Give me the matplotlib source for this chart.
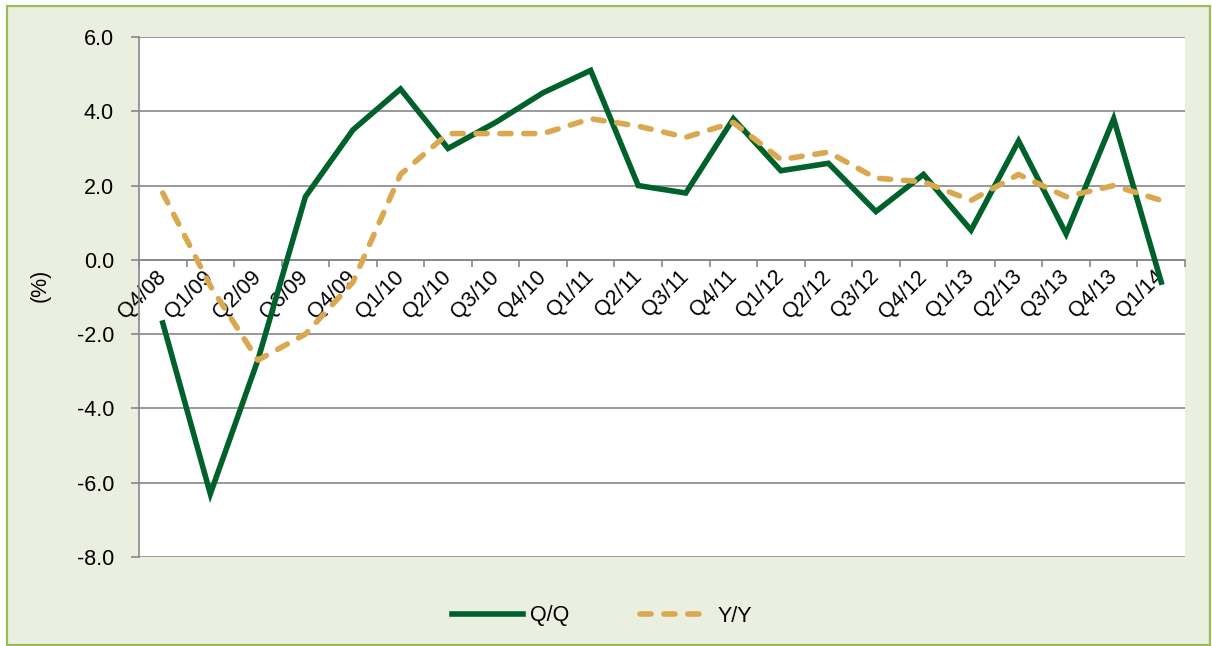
import matplotlib
matplotlib.use("Agg")
import matplotlib.pyplot as plt
from matplotlib.patches import Rectangle

plt.rcParams['font.family'] = ['Liberation Sans', 'DejaVu Sans']

quarters = ["Q4/08", "Q1/09", "Q2/09", "Q3/09", "Q4/09", "Q1/10", "Q2/10", "Q3/10",
            "Q4/10", "Q1/11", "Q2/11", "Q3/11", "Q4/11", "Q1/12", "Q2/12", "Q3/12",
            "Q4/12", "Q1/13", "Q2/13", "Q3/13", "Q4/13", "Q1/14"]
qq = [-1.7, -6.3, -2.7, 1.7, 3.5, 4.6, 3.0, 3.7, 4.5, 5.1, 2.0, 1.8, 3.8, 2.4, 2.6,
      1.3, 2.3, 0.8, 3.2, 0.7, 3.8, -0.6]
yy = [1.8, -0.7, -2.7, -2.0, -0.6, 2.3, 3.4, 3.4, 3.4, 3.8, 3.6, 3.3, 3.7, 2.7, 2.9,
      2.2, 2.1, 1.6, 2.3, 1.7, 2.0, 1.6]
yticks = [-8.0, -6.0, -4.0, -2.0, 0.0, 2.0, 4.0, 6.0]

W, H = 1212, 646
fig = plt.figure(figsize=(W / 100, H / 100), dpi=100, facecolor='white')

# chart area background with green border
bg = Rectangle((7 / W, 1 / H), (1210 - 7) / W, (640 - 1) / H, transform=fig.transFigure,
               facecolor='#EBEFDF', edgecolor='#9BBB59', linewidth=1.6, zorder=-10)
fig.patches.append(bg)

ax = fig.add_axes([139 / W, 1 - 557 / H, (1185 - 139) / W, (557 - 37) / H])
ax.set_facecolor('white')

grid_c = '#888888'
fs = 15.5
x = list(range(len(quarters)))
ax.plot(x, qq, color='#00612A', linewidth=4.0, solid_joinstyle='miter', zorder=3, label='Q/Q')
ax.plot(x, yy, color='#D9A84F', linewidth=4.0, linestyle=(0, (2.0, 2.3)),
        dash_capstyle='round', zorder=3, label='Y/Y')

ax.set_xlim(-0.5, len(quarters) - 0.5)
ax.set_ylim(-8, 6)
ax.set_yticks(yticks)
ax.set_yticklabels([f"{v:.1f}" for v in yticks], fontsize=fs)
ax.yaxis.grid(True, color=grid_c, linewidth=1.2)
ax.set_axisbelow(True)

for s in ['top', 'right']:
    ax.spines[s].set_visible(False)
ax.spines['left'].set_color(grid_c)
ax.spines['left'].set_linewidth(1.2)
ax.spines['bottom'].set_position(('data', 0))
ax.spines['bottom'].set_color(grid_c)
ax.spines['bottom'].set_linewidth(1.2)

ax.tick_params(axis='y', direction='out', length=6, color=grid_c, width=1.2, pad=12)

ax.set_xticks([i - 0.5 for i in range(len(quarters) + 1)])
ax.set_xticklabels([])
ax.set_xticks(x, minor=True)
ax.set_xticklabels(quarters, minor=True, fontsize=fs, rotation=45,
                   ha='right', va='center', rotation_mode='anchor')
ax.tick_params(axis='x', which='major', direction='out', length=5, color=grid_c, width=1.2)
ax.tick_params(axis='x', which='minor', length=0, pad=10)

fig.text(40 / W, 1 - 285 / H, "(%)", rotation=90, fontsize=fs, ha='center', va='center')

fig.legend(loc='center', bbox_to_anchor=(602 / W, 1 - 616 / H), ncol=2, frameon=False,
           fontsize=fs, handlelength=3.3, handletextpad=0.3, columnspacing=3.3)

fig.savefig('out.png', dpi=100, facecolor='white')
